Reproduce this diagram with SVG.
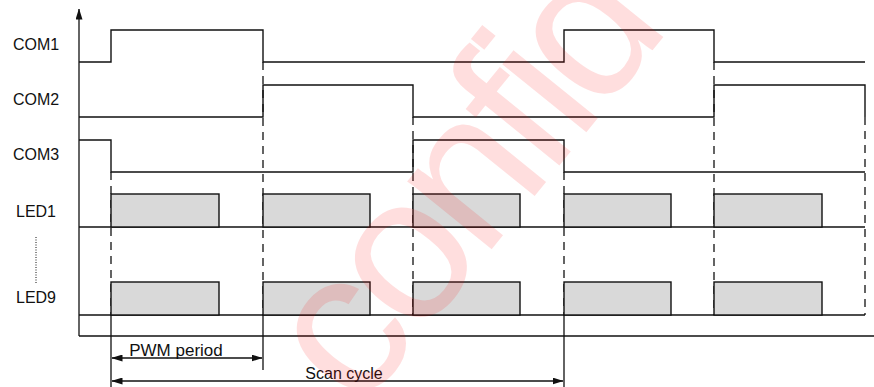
<svg xmlns="http://www.w3.org/2000/svg" width="874" height="387" viewBox="0 0 874 387">
<defs>
<marker id="ah" markerWidth="11" markerHeight="7" refX="10.5" refY="3.5" orient="auto-start-reverse" markerUnits="userSpaceOnUse"><path d="M0,0 L11,3.5 L0,7 z" fill="#111"/></marker>
<style>
.sig{fill:none;stroke:#111;stroke-width:1.4}
.pulse{fill:#d9d9d9;stroke:#111;stroke-width:1.4}
.dash{fill:none;stroke:#111;stroke-width:1.3;stroke-dasharray:8 6}
.solid{fill:none;stroke:#111;stroke-width:1.3}
.lbl{font-family:"Liberation Sans",Arial,sans-serif;font-size:16px;fill:#111}
.wm{font-family:"Liberation Sans",Arial,sans-serif;font-size:205px;letter-spacing:-10px;fill:#ff0000;fill-opacity:0.13}
</style>
</defs>
<rect width="874" height="387" fill="#fff"/>
<g id="connectors">
<path class="dash" d="M111,172 V315 M263,62 V315 M413,117 V315 M564,172 V315 M714,62 V315 M865,117 V315"/>
<path class="solid" d="M111,315 V387 M564,315 V387 M263,315 V370"/>
<path class="solid" d="M79,336 V9" marker-end="url(#ah)"/>
<path class="solid" d="M79,336 H874"/>
<path class="solid" d="M112,358 H262" marker-start="url(#ah)" marker-end="url(#ah)"/>
<path class="solid" d="M112,381 H563" marker-start="url(#ah)" marker-end="url(#ah)"/>
<path fill="none" stroke="#111" stroke-width="1" stroke-dasharray="1 1.5" d="M36,237 V283"/>
</g>
<g id="com1">
<text class="lbl" x="36" y="50" text-anchor="middle">COM1</text>
<path class="sig" d="M79,62 H111 V30 H263 V62 H564 V30 H714 V62 H865"/>
</g>
<g id="com2">
<text class="lbl" x="36" y="105" text-anchor="middle">COM2</text>
<path class="sig" d="M79,117 H263 V85 H413 V117 H714 V85 H865 V117"/>
</g>
<g id="com3">
<text class="lbl" x="36" y="160" text-anchor="middle">COM3</text>
<path class="sig" d="M79,140 H111 V172 H413 V140 H564 V172 H865"/>
</g>
<g id="led1">
<text class="lbl" x="36" y="216.5" text-anchor="middle">LED1</text>
<path class="sig" d="M79,227 H865"/>
<rect class="pulse" x="111" y="194" width="108" height="33"/>
<rect class="pulse" x="263" y="194" width="107" height="33"/>
<rect class="pulse" x="413" y="194" width="107" height="33"/>
<rect class="pulse" x="564" y="194" width="107" height="33"/>
<rect class="pulse" x="714" y="194" width="108" height="33"/>
</g>
<g id="led9">
<text class="lbl" x="36" y="302.5" text-anchor="middle">LED9</text>
<path class="sig" d="M79,315 H865"/>
<rect class="pulse" x="111" y="282" width="108" height="33"/>
<rect class="pulse" x="263" y="282" width="107" height="33"/>
<rect class="pulse" x="413" y="282" width="107" height="33"/>
<rect class="pulse" x="564" y="282" width="107" height="33"/>
<rect class="pulse" x="714" y="282" width="108" height="33"/>
</g>
<g id="pwm-label">
<text class="lbl" x="176" y="356" text-anchor="middle" style="font-size:17px">PWM period</text>
</g>
<g id="scan-label">
<text class="lbl" x="344" y="378.5" text-anchor="middle">Scan cycle</text>
</g>
<text class="wm" x="359" y="413" transform="rotate(-51 359 413)">confid</text>
</svg>
